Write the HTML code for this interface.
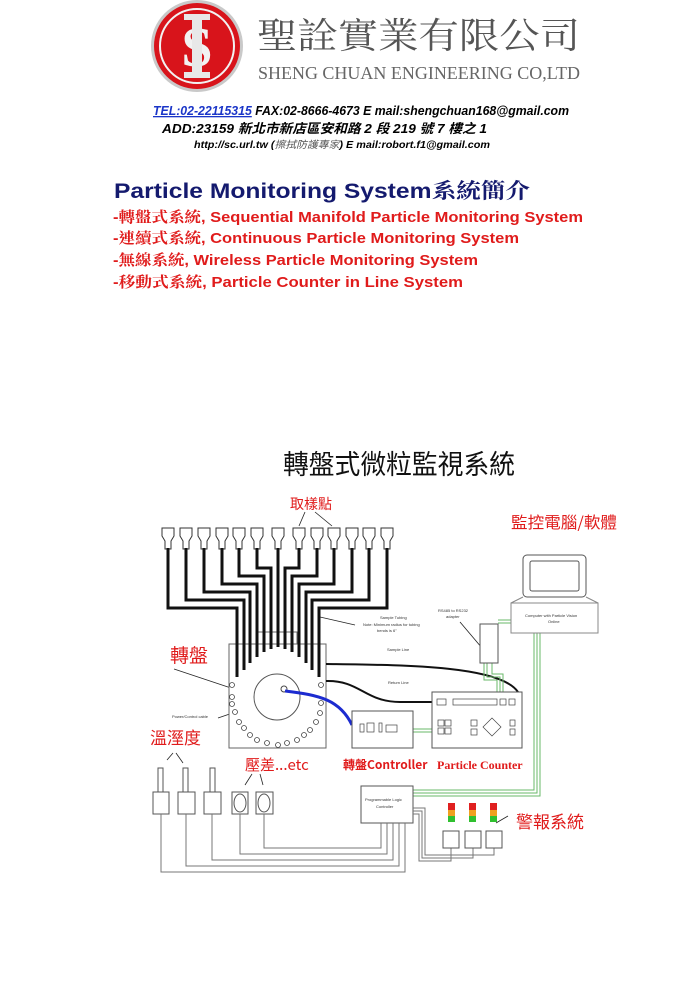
<!DOCTYPE html>
<html><head><meta charset="utf-8"><style>
html,body{margin:0;padding:0;background:#fff;}
svg{display:block;}
</style></head><body>
<svg width="699" height="989" viewBox="0 0 699 989" xmlns="http://www.w3.org/2000/svg">
<!-- Logo -->
<circle cx="197" cy="46" r="46" fill="#c9c9c9"/>
<circle cx="197" cy="46" r="43" fill="#d8141b"/>
<circle cx="197" cy="46" r="37" fill="none" stroke="#f2f2f2" stroke-width="2"/>
<text x="197" y="66" font-family="Liberation Serif, serif" font-size="56" font-weight="bold" fill="#f2f2f2" text-anchor="middle">S</text>
<rect x="192" y="14" width="10" height="64" fill="#e8e8e8"/>
<rect x="184" y="14" width="26" height="6" fill="#e8e8e8"/>
<rect x="184" y="72" width="26" height="6" fill="#e8e8e8"/>
<text x="257" y="48" font-family="Noto Serif CJK SC, serif" font-size="36" fill="#555" textLength="323" lengthAdjust="spacingAndGlyphs">聖詮實業有限公司</text>
<text x="258" y="79" font-family="Liberation Serif, serif" font-size="18" fill="#666" textLength="322" lengthAdjust="spacingAndGlyphs">SHENG CHUAN ENGINEERING CO,LTD</text>
<!-- contact -->
<text x="153" y="115" font-family="Liberation Sans, Noto Sans CJK TC, sans-serif" font-size="13" font-weight="bold" font-style="italic" fill="#000" textLength="416" lengthAdjust="spacingAndGlyphs"><tspan fill="#1a35c8" text-decoration="underline">TEL:02-22115315</tspan> FAX:02-8666-4673 E mail:shengchuan168@gmail.com</text>
<text x="162" y="133" font-family="Liberation Sans, Noto Sans CJK TC, sans-serif" font-size="13" font-weight="bold" font-style="italic" fill="#000" textLength="325" lengthAdjust="spacingAndGlyphs">ADD:23159  新北市新店區安和路 2 段 219 號 7 樓之 1</text>
<text x="194" y="148" font-family="Liberation Sans, Noto Sans CJK TC, sans-serif" font-size="10" font-weight="bold" font-style="italic" fill="#000" textLength="296" lengthAdjust="spacingAndGlyphs">http://sc.url.tw (<tspan fill="#555" font-weight="normal">擦拭防護專家</tspan>) E mail:robort.f1@gmail.com</text>
<!-- headings -->
<text x="114" y="198" font-family="Liberation Sans, Noto Serif CJK TC, sans-serif" font-size="21" font-weight="bold" fill="#141a6e" textLength="416" lengthAdjust="spacingAndGlyphs">Particle Monitoring System<tspan font-family="Noto Serif CJK TC, serif">系統簡介</tspan></text>
<g font-family="Liberation Sans, Noto Serif CJK TC, sans-serif" font-size="15" font-weight="bold" fill="#e01b1b">
<text x="113" y="222" textLength="470" lengthAdjust="spacingAndGlyphs">-<tspan font-family="Noto Serif CJK TC, serif">轉盤式系統</tspan>, Sequential Manifold Particle Monitoring System</text>
<text x="113" y="243" textLength="406" lengthAdjust="spacingAndGlyphs">-<tspan font-family="Noto Serif CJK TC, serif">連續式系統</tspan>, Continuous Particle Monitoring System</text>
<text x="113" y="265" textLength="365" lengthAdjust="spacingAndGlyphs">-<tspan font-family="Noto Serif CJK TC, serif">無線系統</tspan>, Wireless Particle Monitoring System</text>
<text x="113" y="287" textLength="350" lengthAdjust="spacingAndGlyphs">-<tspan font-family="Noto Serif CJK TC, serif">移動式系統</tspan>, Particle Counter in Line  System</text>
</g>
<!-- diagram title -->
<text x="283" y="474" font-family="Noto Sans CJK TC, sans-serif" font-size="27" fill="#111" textLength="232" lengthAdjust="spacingAndGlyphs">轉盤式微粒監視系統</text>
<g font-family="Noto Sans CJK TC, sans-serif" fill="#e01b1b">
<text x="290" y="509" font-size="14">取樣點</text>
<text x="511" y="528" font-size="16" textLength="106" lengthAdjust="spacingAndGlyphs">監控電腦/軟體</text>
<text x="170" y="662" font-size="19">轉盤</text>
<text x="150" y="744" font-size="17">溫溼度</text>
<text x="245" y="770" font-size="15" font-family="Noto Sans CJK TC, Liberation Serif, serif">壓差...etc</text>
<text x="343" y="769" font-size="12" font-family="Noto Sans CJK TC, Liberation Serif, serif" font-weight="bold">轉盤Controller</text>
<text x="437" y="769" font-size="12" font-family="Liberation Serif, serif" font-weight="bold">Particle Counter</text>
<text x="516" y="828" font-size="17">警報系統</text>
</g>
<!-- arrows -->
<g stroke="#222" stroke-width="0.8" fill="none">
<line x1="305" y1="512" x2="299" y2="526"/><line x1="315" y1="512" x2="332" y2="526"/>
<line x1="174" y1="669" x2="231" y2="688"/>
<line x1="173" y1="753" x2="167" y2="760"/><line x1="176" y1="753" x2="183" y2="763"/>
<line x1="252" y1="774" x2="245" y2="785"/><line x1="260" y1="774" x2="263" y2="785"/>
<line x1="508" y1="816" x2="496" y2="823"/>
<line x1="218" y1="718" x2="285" y2="695"/>
<line x1="320" y1="617" x2="355" y2="625"/>
<line x1="460" y1="622" x2="482" y2="648"/>
</g>
<!-- sample heads -->
<g fill="#fff" stroke="#333" stroke-width="1">
<path d="M162 528 h12 v8 l-3 5 v8 h-6 v-8 l-3 -5 z"/>
<path d="M180 528 h12 v8 l-3 5 v8 h-6 v-8 l-3 -5 z"/>
<path d="M198 528 h12 v8 l-3 5 v8 h-6 v-8 l-3 -5 z"/>
<path d="M216 528 h12 v8 l-3 5 v8 h-6 v-8 l-3 -5 z"/>
<path d="M233 528 h12 v8 l-3 5 v8 h-6 v-8 l-3 -5 z"/>
<path d="M251 528 h12 v8 l-3 5 v8 h-6 v-8 l-3 -5 z"/>
<path d="M272 528 h12 v8 l-3 5 v8 h-6 v-8 l-3 -5 z"/>
<path d="M293 528 h12 v8 l-3 5 v8 h-6 v-8 l-3 -5 z"/>
<path d="M311 528 h12 v8 l-3 5 v8 h-6 v-8 l-3 -5 z"/>
<path d="M328 528 h12 v8 l-3 5 v8 h-6 v-8 l-3 -5 z"/>
<path d="M346 528 h12 v8 l-3 5 v8 h-6 v-8 l-3 -5 z"/>
<path d="M363 528 h12 v8 l-3 5 v8 h-6 v-8 l-3 -5 z"/>
<path d="M381 528 h12 v8 l-3 5 v8 h-6 v-8 l-3 -5 z"/>
</g>
<!-- turntable -->
<rect x="257" y="632" width="40" height="12" fill="#fff" stroke="#666" stroke-width="1"/>
<rect x="229" y="644" width="97" height="104" fill="#fff" stroke="#666" stroke-width="1"/>
<circle cx="277" cy="697" r="23" fill="none" stroke="#555" stroke-width="1"/>
<circle cx="284" cy="689" r="3" fill="none" stroke="#444"/>
<!-- wires -->
<g stroke="#111" stroke-width="3" fill="none">
<path d="M168 548 V608 H237 V677"/><path d="M186 548 V600 H244 V670"/>
<path d="M204 548 V592 H250 V663"/><path d="M222 548 V584 H257 V657"/>
<path d="M239 548 V576 H264 V652"/><path d="M257 548 V568 H271 V649"/>
<path d="M278 548 V647"/><path d="M299 548 V568 H285 V649"/>
<path d="M317 548 V576 H292 V652"/><path d="M334 548 V584 H299 V657"/>
<path d="M352 548 V592 H306 V663"/><path d="M369 548 V600 H312 V670"/>
<path d="M387 548 V608 H319 V677"/>
</g>
<g fill="#fff" stroke="#444" stroke-width="0.8">
<circle cx="232" cy="685" r="2.5"/><circle cx="232" cy="697" r="2.5"/><circle cx="232" cy="704" r="2.5"/><circle cx="235" cy="712" r="2.5"/>
<circle cx="239" cy="722" r="2.5"/><circle cx="244" cy="728" r="2.5"/><circle cx="250" cy="735" r="2.5"/><circle cx="257" cy="740" r="2.5"/><circle cx="267" cy="743" r="2.5"/><circle cx="278" cy="745" r="2.5"/><circle cx="287" cy="743" r="2.5"/><circle cx="297" cy="740" r="2.5"/><circle cx="304" cy="735" r="2.5"/><circle cx="310" cy="730" r="2.5"/><circle cx="316" cy="722" r="2.5"/><circle cx="320" cy="713" r="2.5"/><circle cx="321" cy="703" r="2.5"/><circle cx="321" cy="685" r="2.5"/>
</g>
<!-- sample/return lines -->
<g stroke="#111" stroke-width="2" fill="none">
<path d="M326 664 C400 665 500 665 518 692"/>
<path d="M326 681 C360 680 365 702 400 702 H432"/>
</g>
<path d="M285 691 C320 695 340 700 352 725" stroke="#1c2bd0" stroke-width="3" fill="none"/>
<!-- green lines -->
<g stroke="#6ab86a" stroke-width="1" fill="none">
<path d="M413 729 H432 M413 732 H432"/>
<path d="M498 620 H511 V615 M498 623 H511"/>
<path d="M484 663 V680 H497 V692 M487 663 V677 H500 V692 M492 663 V674 H503 V692"/>
<path d="M534 633 V790 H413 M537 633 V793 H413 M540 633 V796 H413"/>
</g>
<!-- computer -->
<rect x="523" y="555" width="63" height="42" rx="4" fill="#fff" stroke="#555"/>
<rect x="530" y="561" width="49" height="30" rx="2" fill="#fff" stroke="#555"/>
<rect x="511" y="603" width="87" height="30" fill="#fff" stroke="#888"/>
<line x1="523" y1="597" x2="511" y2="603" stroke="#888"/><line x1="586" y1="597" x2="598" y2="603" stroke="#888"/>
<!-- adapter -->
<rect x="480" y="624" width="18" height="39" fill="#fff" stroke="#555"/>
<!-- controller -->
<rect x="352" y="711" width="61" height="37" fill="#fff" stroke="#555"/>
<g fill="none" stroke="#444" stroke-width="0.7"><rect x="360" y="724" width="4" height="8"/><rect x="367" y="723" width="7" height="9"/><rect x="379" y="723" width="3" height="9"/><rect x="386" y="725" width="11" height="7"/></g>
<!-- particle counter -->
<rect x="432" y="692" width="90" height="56" fill="#fff" stroke="#555"/>
<g fill="none" stroke="#444" stroke-width="0.7">
<rect x="437" y="699" width="9" height="6"/><rect x="453" y="699" width="44" height="6"/><rect x="500" y="699" width="6" height="6"/><rect x="509" y="699" width="6" height="6"/>
<rect x="438" y="720" width="6" height="6"/><rect x="445" y="720" width="6" height="6"/><rect x="438" y="728" width="6" height="6"/><rect x="445" y="728" width="6" height="6"/>
<rect x="471" y="720" width="6" height="6"/><rect x="471" y="729" width="6" height="6"/><rect x="510" y="720" width="5" height="6"/><rect x="510" y="729" width="5" height="6"/>
<path d="M492 718 l9 9 l-9 9 l-9 -9 z"/>
</g>
<!-- PLC -->
<rect x="361" y="786" width="52" height="37" fill="#fff" stroke="#555"/>
<!-- small labels -->
<g font-family="Liberation Sans, sans-serif" font-size="4" fill="#333">
<text x="387" y="651">Sample Line</text><text x="388" y="684">Return Line</text>
<text x="172" y="718">Power/Control cable</text>
<text x="380" y="619">Sample Tubing</text><text x="363" y="626">Note: Minimum radius for tubing</text><text x="377" y="632">bends is 6"</text>
<text x="438" y="612">RS485 to RS232</text><text x="446" y="618">adapter</text>
<text x="525" y="617">Computer with Particle Vision</text><text x="548" y="623">Online</text>
<text x="365" y="801">Programmable Logic</text><text x="376" y="808">Controller</text>
</g>
<!-- sensors -->
<g fill="#fff" stroke="#555" stroke-width="1">
<rect x="158" y="768" width="5" height="24"/><rect x="183" y="768" width="5" height="24"/><rect x="210" y="768" width="5" height="24"/>
<rect x="153" y="792" width="16" height="22"/><rect x="178" y="792" width="17" height="22"/><rect x="204" y="792" width="17" height="22"/>
<rect x="232" y="792" width="16" height="22"/><rect x="256" y="792" width="17" height="22"/>
<ellipse cx="240" cy="803" rx="6" ry="9"/><ellipse cx="264" cy="803" rx="6" ry="9"/>
</g>
<!-- bottom wires -->
<g stroke="#777" stroke-width="1" fill="none">
<path d="M161 814 V872 H405 V823"/><path d="M186 814 V866 H399 V823"/><path d="M212 814 V860 H393 V823"/>
<path d="M240 814 V854 H387 V823"/><path d="M264 814 V848 H381 V823"/>
<path d="M413 808 H425 V855 H494 V848 M413 811 H422 V858 H473 V848 M413 814 H419 V861 H451 V848"/>
</g>
<!-- alarm lights -->
<g>
<rect x="448" y="803" width="7" height="7" fill="#e02020"/><rect x="448" y="810" width="7" height="6" fill="#f0a020"/><rect x="448" y="816" width="7" height="6" fill="#30c030"/>
<rect x="469" y="803" width="7" height="7" fill="#e02020"/><rect x="469" y="810" width="7" height="6" fill="#f0a020"/><rect x="469" y="816" width="7" height="6" fill="#30c030"/>
<rect x="490" y="803" width="7" height="7" fill="#e02020"/><rect x="490" y="810" width="7" height="6" fill="#f0a020"/><rect x="490" y="816" width="7" height="6" fill="#30c030"/>
</g>
<g fill="#fff" stroke="#555"><rect x="443" y="831" width="16" height="17"/><rect x="465" y="831" width="16" height="17"/><rect x="486" y="831" width="16" height="17"/></g>
</svg>
</body></html>
